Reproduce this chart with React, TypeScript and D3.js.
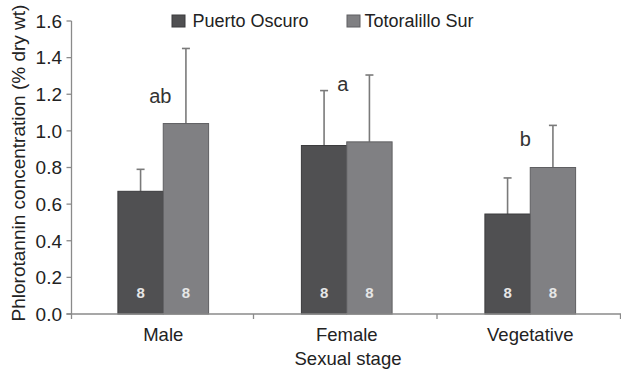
import React from "react";
import * as d3 from "d3";

const categories = ["Male", "Female", "Vegetative"];
const seriesNames = ["Puerto Oscuro", "Totoralillo Sur"];
const puertoOscuro = [0.67, 0.92, 0.546];
const puertoOscuroErr = [0.12, 0.3, 0.197];
const totoralillo = [1.04, 0.94, 0.8];
const totoralilloErr = [0.41, 0.365, 0.23];
const sampleSizes = [8, 8, 8];
const letters = ["ab", "a", "b"];
const letterY = [1.152, 1.218, 0.92];
const yTicks = [0, 0.2, 0.4, 0.6, 0.8, 1.0, 1.2, 1.4, 1.6];

const W = 621;
const H = 371;
const left = 71.5;
const right = 622;
const top = 21;
const bottom = 314;
const colors = ["#505052", "#808083"];
const strokes = ["#3a3a3c", "#5f5f62"];
const font = "'Liberation Sans', Arial, sans-serif";

export default function App() {
  const x = d3.scaleBand<string>().domain(categories).range([left, right]).paddingInner(0).paddingOuter(0);
  const inner = d3.scaleBand<string>().domain(seriesNames).range([46.4, x.bandwidth() - 46.4]);
  const y = d3.scaleLinear().domain([0, 1.6]).range([bottom, top]);
  const series = [
    { vals: puertoOscuro, errs: puertoOscuroErr },
    { vals: totoralillo, errs: totoralilloErr },
  ];
  const letterDx = [-3, -4, -5];
  return (
    <svg width={W} height={H} style={{ position: "absolute", left: 0, top: 0, background: "#fff" }} fontFamily={font}>
      {/* y axis */}
      <line x1={left} x2={left} y1={top} y2={bottom} stroke="#8a8a8a" strokeWidth={1.3} />
      {yTicks.map((t) => (
        <g key={t}>
          <line x1={left - 5} x2={left} y1={y(t)} y2={y(t)} stroke="#8a8a8a" strokeWidth={1.3} />
          <text x={62} y={y(t)} dy="0.36em" textAnchor="end" fontSize={19} fill="#222">
            {t.toFixed(1)}
          </text>
        </g>
      ))}
      {/* bars */}
      {categories.map((c, i) => (
        <g key={c}>
          {series.map((s, j) => {
            const bx = (x(c) as number) + (inner(seriesNames[j]) as number);
            const bw = inner.bandwidth();
            const cx = bx + bw / 2;
            return (
              <g key={j}>
                <line x1={cx} x2={cx} y1={y(s.vals[i])} y2={y(s.vals[i] + s.errs[i])} stroke="#7a7a7a" strokeWidth={1.6} />
                <line x1={cx - 4} x2={cx + 4} y1={y(s.vals[i] + s.errs[i])} y2={y(s.vals[i] + s.errs[i])} stroke="#7a7a7a" strokeWidth={1.6} />
                <rect x={bx} y={y(s.vals[i])} width={bw} height={bottom - y(s.vals[i])} fill={colors[j]} stroke={strokes[j]} strokeWidth={1} />
                <text x={cx} y={293} dy="0.36em" textAnchor="middle" fontSize={15} fontWeight="bold" fill="#e6e6e6">
                  {sampleSizes[i]}
                </text>
              </g>
            );
          })}
          <text x={(x(c) as number) + x.bandwidth() / 2 + letterDx[i]} y={y(letterY[i])} textAnchor="middle" fontSize={20} fill="#333">
            {letters[i]}
          </text>
        </g>
      ))}
      {/* x axis */}
      <line x1={left - 5} x2={right} y1={bottom} y2={bottom} stroke="#8a8a8a" strokeWidth={1.3} />
      {[left, ...categories.map((c) => (x(c) as number) + x.bandwidth() - 1.5)].map((v, k) => (
        <line key={k} x1={v} x2={v} y1={bottom} y2={bottom + 5} stroke="#8a8a8a" strokeWidth={1.3} />
      ))}
      {categories.map((c) => (
        <text key={c} x={(x(c) as number) + x.bandwidth() / 2} y={340.5} textAnchor="middle" fontSize={18.5} fill="#222">
          {c}
        </text>
      ))}
      <text x={348} y={364.5} textAnchor="middle" fontSize={18.5} fill="#222">
        Sexual stage
      </text>
      <text transform={`translate(25,163) rotate(-90)`} textAnchor="middle" fontSize={19} fill="#222">
        Phlorotannin concentration (% dry wt)
      </text>
      {/* legend */}
      {seriesNames.map((n, j) => {
        const lx = j === 0 ? 172 : 347;
        return (
          <g key={n}>
            <rect x={lx} y={15} width={13} height={12} fill={colors[j]} stroke={strokes[j]} />
            <text x={j === 0 ? 192.5 : 364.5} y={27} fontSize={18} fill="#222">
              {n}
            </text>
          </g>
        );
      })}
    </svg>
  );
}
